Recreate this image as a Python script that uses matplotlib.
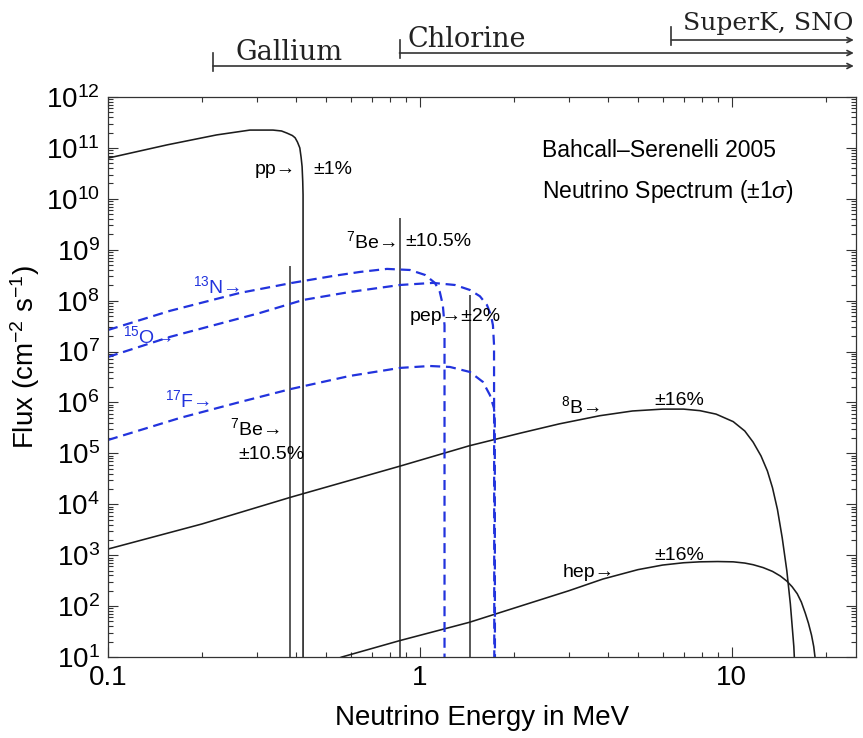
import numpy as np
import matplotlib
matplotlib.use("Agg")
import matplotlib.pyplot as plt
from matplotlib.ticker import LogLocator, NullFormatter, FixedLocator

plt.rcParams['font.family'] = ['Liberation Sans', 'DejaVu Sans']
plt.rcParams['mathtext.fontset'] = 'custom'
plt.rcParams['mathtext.rm'] = 'Liberation Sans'
plt.rcParams['mathtext.it'] = 'Liberation Sans:italic'

# ---------- solar neutrino spectra (energy in MeV, flux in cm^-2 s^-1 [MeV^-1]) ----------
pp_E = [0.1, 0.155, 0.223, 0.285, 0.338, 0.36, 0.375, 0.39, 0.398, 0.405, 0.412, 0.416, 0.419, 0.421, 0.422, 0.422]
pp_F = [6.3e10, 1.15e11, 1.8e11, 2.24e11, 2.24e11, 2.15e11, 1.95e11, 1.75e11, 1.58e11, 1.3e11, 1.0e11, 6.5e10,
        4.3e10, 2.2e10, 1.2e10, 1.0]

n13_E = [0.1, 0.158, 0.265, 0.389, 0.526, 0.642, 0.784, 0.929, 1.038, 1.117, 1.158, 1.184, 1.199, 1.199]
n13_F = [2.65e7, 6.3e7, 1.42e8, 2.23e8, 3.05e8, 3.66e8, 4.2e8, 4.0e8, 3.2e8, 2.23e8, 1.48e8, 8.2e7, 3.3e7, 1.0]

o15_E = [0.1, 0.158, 0.307, 0.422, 0.596, 0.863, 1.101, 1.295, 1.446, 1.557, 1.640, 1.689, 1.714, 1.728, 1.732]
o15_F = [7.83e6, 1.94e7, 5.73e7, 1.03e8, 1.48e8, 2.03e8, 2.23e8, 2.03e8, 1.62e8, 1.22e8, 8.2e7, 5.2e7, 3.3e7,
         1.35e7, 1.0]

f17_E = [0.1, 0.170, 0.265, 0.386, 0.596, 0.863, 1.076, 1.248, 1.446, 1.592, 1.676, 1.727, 1.738, 1.740]
f17_F = [1.83e5, 4.96e5, 1.02e6, 1.84e6, 3.32e6, 4.77e6, 5.2e6, 4.98e6, 3.97e6, 2.53e6, 1.40e6, 7.8e5, 4.5e5, 1.0]

b8_E = [0.1, 0.2, 0.386, 0.862, 1.44, 2.1, 2.8, 3.78, 4.8, 6.0, 7.0, 7.9, 8.9, 10.1, 11.0, 11.7, 12.4, 13.0,
        13.5, 14.0, 14.5, 15.0, 15.4, 15.8, 16.0]
b8_F = [1.32e3, 4.1e3, 1.38e4, 5.6e4, 1.41e5, 2.5e5, 3.8e5, 5.5e5, 6.8e5, 7.4e5, 7.4e5, 6.9e5, 5.9e5, 4.2e5,
        2.75e5, 1.66e5, 8.9e4, 4.5e4, 2.1e4, 7.9e3, 2.2e3, 5.0e2, 1.1e2, 1.6e1, 3.0]

hep_E = [0.45, 0.562, 0.862, 1.44, 2.1, 3.0, 3.86, 5.0, 6.0, 7.0, 7.9, 9.0, 10.1, 11.0, 11.7, 12.6, 13.5, 14.3,
         15.0, 15.6, 16.2, 16.7, 17.2, 17.6, 18.0, 18.3, 18.6, 18.8]
hep_F = [6.0, 1.0e1, 2.1e1, 4.8e1, 1.0e2, 2.0e2, 3.4e2, 5.2e2, 6.4e2, 7.1e2, 7.4e2, 7.5e2, 7.4e2, 7.0e2, 6.5e2,
         5.7e2, 4.8e2, 3.9e2, 3.1e2, 2.4e2, 1.75e2, 1.2e2, 7.2e1, 4.6e1, 2.7e1, 1.6e1, 7.0, 1.0]

# mono-energetic lines
line_E = [0.384, 0.862, 1.442]
line_F = [4.8e8, 4.2e9, 1.3e8]

# detector thresholds (MeV)
det_names = ['Gallium', 'Chlorine', 'SuperK, SNO']
det_E = [0.217, 0.86, 6.4]

BLACK = '#1c1c1c'
BLUE = '#2233dd'
DASH = (0, (4.5, 2.6))

fig = plt.figure(figsize=(8.63, 7.38), dpi=100)
W, H = 863, 738
L, R, T, B = 108, 856, 97, 657
ax = fig.add_axes([L / W, 1 - B / H, (R - L) / W, (B - T) / H])

ax.plot(pp_E, pp_F, color=BLACK, lw=1.15)
ax.vlines(line_E, 1.0, line_F, color='#333333', lw=1.15)
ax.plot(b8_E, b8_F, color=BLACK, lw=1.15)
ax.plot(hep_E, hep_F, color=BLACK, lw=1.15)
for E, F in ((n13_E, n13_F), (o15_E, o15_F), (f17_E, f17_F)):
    ax.plot(E, F, color=BLUE, lw=1.6, ls=DASH)

ax.set_xscale('log')
ax.set_yscale('log')
ax.set_xlim(0.1, 25)
ax.set_ylim(1e1, 1e12)

ax.xaxis.set_major_locator(FixedLocator([0.1, 1, 10]))
ax.set_xticklabels(['0.1', '1', '10'])
ax.xaxis.set_minor_locator(LogLocator(base=10, subs=np.arange(2, 10), numticks=50))
ax.xaxis.set_minor_formatter(NullFormatter())
ax.yaxis.set_major_locator(LogLocator(base=10, numticks=20))
ax.yaxis.set_minor_locator(LogLocator(base=10, subs=np.arange(2, 10), numticks=200))
ax.yaxis.set_minor_formatter(NullFormatter())
ax.tick_params(which='both', direction='in', top=True, right=True, color='#333333', width=0.8)
ax.tick_params(which='major', length=7, labelsize=20, pad=6)
ax.tick_params(which='minor', length=3.5)
for s in ax.spines.values():
    s.set_color('#333333')
    s.set_linewidth(0.9)

ax.set_xlabel('Neutrino Energy in MeV', fontsize=20)
ax.xaxis.set_label_coords(0.5, -0.086)
ax.set_ylabel('Flux (cm$^{-2}$ s$^{-1}$)', fontsize=20)
ax.yaxis.set_label_coords(-0.088, 0.536)

# ---------- annotations ----------
fs = 14
ax.text(0.40, 3.7e10, 'pp→', fontsize=fs, ha='right', va='center')
ax.text(0.454, 3.7e10, '±1%', fontsize=fs, ha='left', va='center')
ax.text(0.838, 1.48e9, '$^{7}$Be→', fontsize=fs, ha='right', va='center')
ax.text(0.895, 1.48e9, '±10.5%', fontsize=fs, ha='left', va='center')
ax.text(0.265, 1.95e8, '$^{13}$N→', fontsize=fs, ha='right', va='center', color=BLUE)
ax.text(0.160, 2.0e7, '$^{15}$O→', fontsize=fs, ha='right', va='center', color=BLUE)
ax.text(0.212, 1.12e6, '$^{17}$F→', fontsize=fs, ha='right', va='center', color=BLUE)
ax.text(0.356, 3.17e5, '$^{7}$Be→', fontsize=fs, ha='right', va='center')
ax.text(0.261, 9.3e4, '±10.5%', fontsize=fs, ha='left', va='center')
ax.text(0.929, 4.8e7, 'pep→±2%', fontsize=fs, ha='left', va='center')
ax.text(3.78, 8.5e5, '$^{8}$B→', fontsize=fs, ha='right', va='center')
ax.text(5.66, 1.07e6, '±16%', fontsize=fs, ha='left', va='center')
ax.text(4.22, 4.5e2, 'hep→', fontsize=fs, ha='right', va='center')
ax.text(5.66, 1.0e3, '±16%', fontsize=fs, ha='left', va='center')

ax.text(0.580, 0.905, 'Bahcall–Serenelli 2005', transform=ax.transAxes, fontsize=16.5, va='center')
ax.text(0.580, 0.832, r'Neutrino Spectrum (±1$\sigma$)', transform=ax.transAxes, fontsize=16.5, va='center')

# ---------- detector energy ranges above the plot ----------
top = fig.add_axes([L / W, 1 - T / H, (R - L) / W, T / H])
top.set_xscale('log')
top.set_xlim(0.1, 25)
top.set_ylim(T, 0)
top.axis('off')
bar_y = [66, 53, 40]
text_dx = [16, 6, 8]     # points right of the threshold mark
text_dy = [4, 4, 7]      # points above the arrow
text_fs = [19.5, 19.5, 18]
for name, E0, y, dx, dy, tfs in zip(det_names, det_E, bar_y, text_dx, text_dy, text_fs):
    top.annotate('', xy=(24.6, y), xytext=(E0, y),
                 arrowprops=dict(arrowstyle='->', lw=1.2, color='#333333', shrinkA=0, shrinkB=0,
                                 mutation_scale=9))
    top.plot([E0, E0], [y - 13, y + 5], color='#333333', lw=1.2)
    top.annotate(name, xy=(E0, y), xytext=(dx, dy), textcoords='offset points',
                 family='DejaVu Serif', fontsize=tfs, color='#222222', ha='left', va='baseline')

fig.savefig('out.png', dpi=100)
